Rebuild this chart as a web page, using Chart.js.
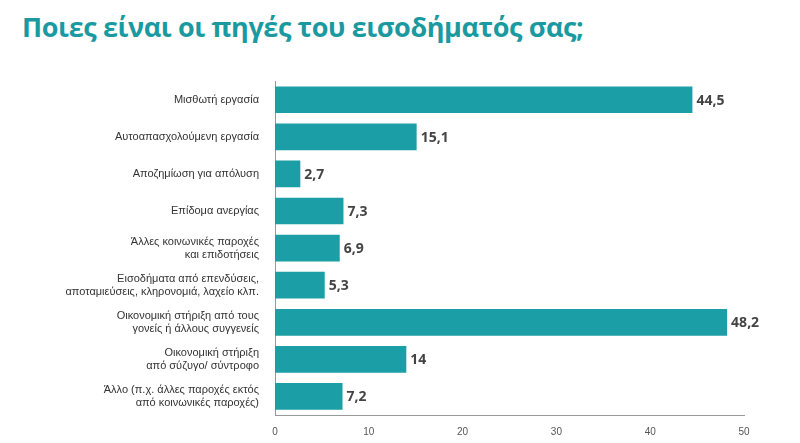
<!DOCTYPE html>
<html><head><meta charset="utf-8">
<script src="https://cdn.jsdelivr.net/npm/chart.js@4"></script>
<style>
body{margin:0;background:#fff;width:800px;height:443px;overflow:hidden;font-family:"Open Sans",sans-serif}
h1{position:absolute;left:22px;top:8px;margin:0;font-size:27px;font-weight:700;color:#1a9aa0;letter-spacing:-0.4px}
#w{position:absolute;left:0;top:60px;width:800px;height:381px}
</style></head><body>
<h1>Ποιες είναι οι πηγές του εισοδήματός σας;</h1>
<div id="w"><canvas id="c"></canvas></div>
<script>
const categories=[["Μισθωτή εργασία"],["Αυτοαπασχολούμενη εργασία"],["Αποζημίωση για απόλυση"],["Επίδομα ανεργίας"],["Άλλες κοινωνικές παροχές","και επιδοτήσεις"],["Εισοδήματα από επενδύσεις,","αποταμιεύσεις, κληρονομιά, λαχείο κλπ."],["Οικονομική στήριξη από τους","γονείς ή άλλους συγγενείς"],["Οικονομική στήριξη","από σύζυγο/ σύντροφο"],["Άλλο (π.χ. άλλες παροχές εκτός","από κοινωνικές παροχές)"]];
const values=[44.5,15.1,2.7,7.3,6.9,5.3,48.2,14,7.2];
const valueLabels=["44,5","15,1","2,7","7,3","6,9","5,3","48,2","14","7,2"];
const ticks=[0,10,20,30,40,50];
const lbl={id:'lbl',afterDatasetsDraw(ch){const c=ch.ctx;c.save();c.font='bold 14px "Open Sans"';c.fillStyle='#444';c.textBaseline='middle';
ch.getDatasetMeta(0).data.forEach((b,i)=>c.fillText(valueLabels[i],b.x+4,b.y+1));c.restore();}};
new Chart(document.getElementById('c'),{type:'bar',data:{labels:categories,datasets:[{data:values,backgroundColor:'#1b9ea5',barPercentage:0.72,categoryPercentage:1}]},
options:{indexAxis:'y',responsive:true,maintainAspectRatio:false,animation:false,layout:{padding:{top:10,right:56,bottom:0}},
plugins:{legend:{display:false},tooltip:{enabled:false}},
scales:{x:{min:0,max:50,afterBuildTicks:a=>{a.ticks=ticks.map(v=>({value:v}))},grid:{display:false,drawTicks:true},border:{color:'#999'},ticks:{color:'#555',font:{size:10}}},
y:{grid:{display:false},border:{color:'#999'},afterFit:a=>{a.width=275},ticks:{color:'#333',font:{size:11},padding:8}}}},plugins:[lbl]});
</script></body></html>
